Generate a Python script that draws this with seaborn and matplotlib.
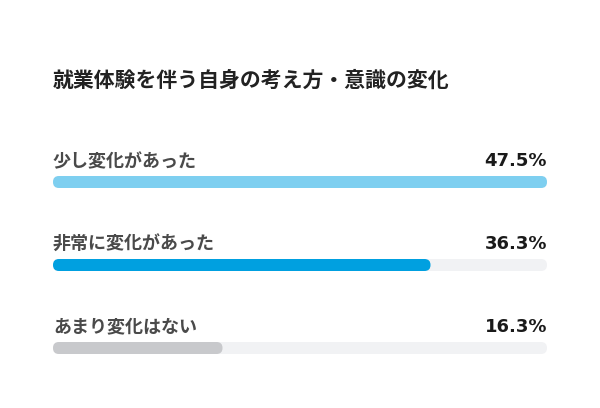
"""就業体験を伴う自身の考え方・意識の変化 — rounded progress bars."""

import matplotlib

matplotlib.use("Agg")
import matplotlib.pyplot as plt
import seaborn as sns
from matplotlib.patches import FancyBboxPatch

TITLE = "就業体験を伴う自身の考え方・意識の変化"
CATEGORIES = ["少し変化があった", "非常に変化があった", "あまり変化はない"]
PERCENTAGES = [47.5, 36.3, 16.3]
BAR_COLORS = ["#7ECFF0", "#00A0E0", "#C8C9CC"]
TRACK_COLOR = "#F1F2F4"


def round_bars(ax, patches, radius_px):
    """Swap seaborn's rectangles for pill shapes with the same extent."""
    bbox = ax.get_window_extent()
    x0, x1 = ax.get_xlim()
    y0, y1 = ax.get_ylim()
    x_per_px = abs(x1 - x0) / bbox.width
    y_per_px = abs(y1 - y0) / bbox.height
    for p in patches:
        fancy = FancyBboxPatch(
            (p.get_x(), p.get_y()),
            p.get_width(),
            p.get_height(),
            boxstyle=f"round,pad=0,rounding_size={radius_px * x_per_px}",
            mutation_aspect=y_per_px / x_per_px,
            facecolor=p.get_facecolor(),
            edgecolor="none",
            zorder=p.get_zorder(),
        )
        p.remove()
        ax.add_patch(fancy)


def main() -> None:
    sns.set_style("white")
    plt.rcParams["font.family"] = ["Noto Sans CJK JP", "DejaVu Sans"]

    fig = plt.figure(figsize=(6.0, 4.08), dpi=100)
    fig.patch.set_facecolor("white")
    ax = fig.add_axes([53 / 600, 18.5 / 408, 494 / 600, 249 / 408])

    bar_width = 12 / 83
    top = max(PERCENTAGES)

    sns.barplot(x=[top] * len(CATEGORIES), y=CATEGORIES, color=TRACK_COLOR,
                saturation=1, orient="h", width=bar_width, ax=ax)
    track_patches = list(ax.patches)
    sns.barplot(x=PERCENTAGES, y=CATEGORIES, hue=CATEGORIES, palette=BAR_COLORS,
                saturation=1, legend=False, orient="h", width=bar_width, ax=ax)
    value_patches = [p for p in ax.patches if p not in track_patches]

    ax.set_xlim(0, top)
    ax.set_ylim(len(CATEGORIES) - 0.5, -0.5)

    round_bars(ax, track_patches, 6)
    round_bars(ax, value_patches, 6)

    for i, (label, pct) in enumerate(zip(CATEGORIES, PERCENTAGES)):
        ax.text(0, i - 0.25, label, ha="left", va="center", fontsize=13,
                fontweight="bold", color="#4A4A4A")
        ax.text(top, i - 0.25, f"{pct:.1f}%", ha="right", va="center",
                fontsize=13, fontweight="bold", color="#1A1A1A",
                family=["DejaVu Sans"])

    ax.set_axis_off()
    fig.text(53 / 600, 1 - 80 / 408, TITLE, ha="left", va="center",
             fontsize=15, fontweight="bold", color="#222222")

    fig.savefig("out.png", dpi=100, facecolor="white")


if __name__ == "__main__":
    main()
